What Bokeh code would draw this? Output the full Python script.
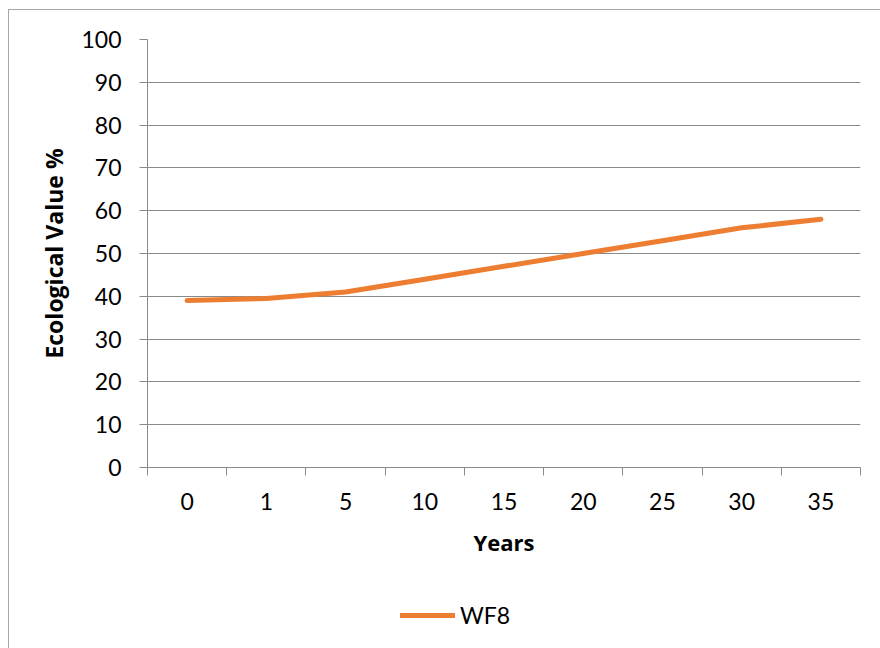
from bokeh.plotting import figure
from bokeh.layouts import column
from bokeh.models import (Range1d, FixedTicker, Legend, LegendItem,
                          ColumnDataSource)
from bokeh.embed import file_html
from bokeh.resources import INLINE

# Data
years = ["0", "1", "5", "10", "15", "20", "25", "30", "35"]
wf8 = [39, 39.5, 41, 44, 47, 50, 53, 56, 58]
y_ticks = list(range(0, 101, 10))
series_name = "WF8"

TICK_FONT = "Lato"
LABEL_FONT = "Open Sans"
GRID = "#8a8a8a"
ORANGE = "#ED7D31"
LINE_STYLE = dict(line_color=ORANGE, line_width=5, line_cap="round", line_join="round")

# categories sit in the middle of unit-wide slots; tick marks go on slot edges
x_pos = [i + 0.5 for i in range(len(years))]
slot_edges = list(range(len(years) + 1))
src = ColumnDataSource(dict(x=x_pos, y=wf8))

p = figure(width=871, height=570, output_backend="svg", toolbar_location=None,
           x_range=Range1d(0, len(years)), y_range=Range1d(0, 100),
           min_border_left=138, min_border_right=20,
           min_border_top=29, min_border_bottom=113)
p.outline_line_color = None
p.background_fill_color = "white"
p.border_fill_color = "white"

p.line("x", "y", source=src, **LINE_STYLE)

# x axis
xa = p.xaxis[0]
xa.ticker = FixedTicker(ticks=x_pos, minor_ticks=slot_edges)
xa.major_label_overrides = {x: lab for x, lab in zip(x_pos, years)}
xa.major_tick_out = 0
xa.major_tick_in = 0
xa.minor_tick_out = 8
xa.minor_tick_in = 0
xa.minor_tick_line_color = GRID
xa.axis_line_color = GRID
xa.major_label_text_font = TICK_FONT
xa.major_label_text_font_size = "23px"
xa.major_label_text_color = "black"
xa.major_label_standoff = 17
xa.axis_label = "Years"
xa.axis_label_text_font = LABEL_FONT
xa.axis_label_text_font_size = "22px"
xa.axis_label_text_font_style = "bold"
xa.axis_label_text_color = "black"
xa.axis_label_standoff = 14

# y axis
ya = p.yaxis[0]
ya.ticker = FixedTicker(ticks=y_ticks, minor_ticks=[])
ya.major_tick_out = 8
ya.major_tick_in = 0
ya.major_tick_line_color = GRID
ya.axis_line_color = GRID
ya.major_label_text_font = TICK_FONT
ya.major_label_text_font_size = "23px"
ya.major_label_text_color = "black"
ya.major_label_standoff = 18
ya.axis_label = "Ecological Value %"
ya.axis_label_text_font = LABEL_FONT
ya.axis_label_text_font_size = "23px"
ya.axis_label_text_font_style = "bold"
ya.axis_label_text_color = "black"
ya.axis_label_standoff = 8

p.xgrid.visible = False
p.ygrid.grid_line_color = GRID
p.ygrid.grid_line_width = 1

# legend strip under the chart; its key line holds a single empty (NaN) point
key = figure(width=871, height=68, output_backend="svg", toolbar_location=None,
             x_axis_location=None, y_axis_location=None,
             min_border=0, min_border_left=0, min_border_right=0,
             min_border_top=0, min_border_bottom=0)
key.outline_line_color = None
key.grid.visible = False
key_line = key.line(x=[float("nan")], y=[float("nan")], **LINE_STYLE)
legend = Legend(items=[LegendItem(label=series_name, renderers=[key_line])],
                location=(253, 19), orientation="horizontal",
                border_line_color=None, background_fill_alpha=0,
                glyph_width=55, glyph_height=28, label_standoff=5,
                padding=0, margin=0, spacing=0,
                label_text_font=TICK_FONT, label_text_font_size="23px",
                label_text_color="black")
key.add_layout(legend)

page = column(p, key, spacing=0)
page.margin = (9, 0, 0, 8)
page.styles = {"border-left": "1px solid #a6a6a6", "border-top": "1px solid #a6a6a6"}

open("out.html", "w").write(file_html(page, INLINE))
